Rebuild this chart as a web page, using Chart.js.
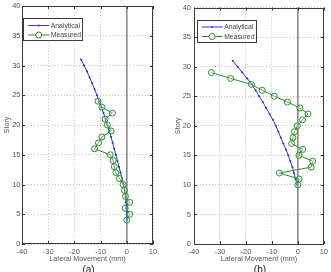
<!DOCTYPE html>
<html>
<head>
<meta charset="utf-8">
<script src="https://cdn.jsdelivr.net/npm/chart.js@4/dist/chart.umd.min.js"></script>
<style>
  html,body{margin:0;padding:0;background:#fff;width:331px;height:272px;overflow:hidden;}
  .p{position:absolute;top:0;height:272px;}
</style>
</head>
<body>
<div class="p" style="left:0;width:165px;"><canvas id="ca" width="165" height="272"></canvas></div>
<div class="p" style="left:165px;width:166px;"><canvas id="cb" width="166" height="272"></canvas></div>
<script>
// ---- Data ----
const xTickValues = [-40, -30, -20, -10, 0, 10];
const yTickValues = [0, 5, 10, 15, 20, 25, 30, 35, 40];
const seriesNames = ['Analytical', 'Measured'];
const panelLabels = ['(a)', '(b)'];

// Panel (a)
const aAnalyticalStory = [31,30,29,28,27,26,25,24,23,22,21,20,19,18,17,16,15,14,13,12,11,10,9,8,7,6,5,4];
const aAnalyticalMove  = [-17.5,-16.3,-15.2,-14.2,-13.2,-12.3,-11.4,-10.5,-9.7,-8.9,-8.1,-7.4,-6.7,-6.0,-5.4,-4.8,-4.2,-3.6,-3.0,-2.4,-1.8,-1.2,-0.8,-0.5,-0.3,-0.1,0,0];
const aMeasuredStory   = [24,23,22,21,20,19,18,17,16,15,14,13,12,11,10,9,8,7,6,5,4];
const aMeasuredMove    = [-11,-9.5,-5.5,-8.3,-7.4,-6,-9.5,-10.8,-12.3,-6.3,-5.2,-4.8,-4.2,-2.8,-1.4,-0.9,-0.5,1.1,-0.6,1.1,0];

// Panel (b)
const bAnalyticalStory = [31,30,29,28,27,26,25,24,23,22,21,20,19,18,17,16,15,14,13,12,11,10];
const bAnalyticalMove  = [-25.1,-23.2,-21.4,-19.5,-17.7,-16.3,-14.9,-13.5,-12.2,-10.9,-9.6,-8.5,-7.5,-6.6,-5.6,-4.6,-3.7,-2.9,-2.1,-1.5,-0.9,-0.3];
const bMeasuredStory   = [29,28,27,26,25,24,23,22,21,20,19,18,17,16,15,14,13,12,11,10];
const bMeasuredMove    = [-33.3,-25.9,-17.9,-13.7,-9.1,-4.0,0.8,3.9,1.8,-0.2,-1.3,-1.9,-2.4,1.9,0.4,5.7,5.1,-7.1,0.5,0];

// Zero reference line
const zeroLineX = [0, 0];
const zeroLineY = [0, 40];

// ---- Helpers ----
const FONT = "'Liberation Sans', Arial, Helvetica, sans-serif";
const pts = (xs, ys) => xs.map((x, i) => ({x: x, y: ys[i]}));

const framePlugin = {
  id: 'frame',
  afterDraw(chart, args, o) {
    const ctx = chart.ctx;
    const a = chart.chartArea;
    ctx.save();
    // box
    ctx.strokeStyle = '#3a3a3a';
    ctx.lineWidth = 1;
    ctx.strokeRect(Math.round(a.left) + 0.5, Math.round(a.top) + 0.5,
                   Math.round(a.right - a.left) - 1, Math.round(a.bottom - a.top) - 1);
    // inward ticks
    const tl = 3;
    const xs = chart.scales.x, ys = chart.scales.y;
    ctx.beginPath();
    xs.ticks.forEach(t => {
      const px = Math.round(xs.getPixelForValue(t.value)) + 0.5;
      ctx.moveTo(px, a.bottom); ctx.lineTo(px, a.bottom - tl);
      ctx.moveTo(px, a.top); ctx.lineTo(px, a.top + tl);
    });
    ys.ticks.forEach(t => {
      const py = Math.round(ys.getPixelForValue(t.value)) + 0.5;
      ctx.moveTo(a.left, py); ctx.lineTo(a.left + tl, py);
      ctx.moveTo(a.right, py); ctx.lineTo(a.right - tl, py);
    });
    ctx.stroke();

    // legend
    const L = o.legend;
    const lx = a.left + L.dx, ly = a.top + L.dy;
    ctx.fillStyle = '#ffffff';
    ctx.fillRect(lx, ly, L.w, L.h);
    ctx.strokeStyle = '#3a3a3a';
    ctx.strokeRect(Math.round(lx) + 0.5, Math.round(ly) + 0.5, L.w, L.h);
    ctx.font = '6.8px ' + FONT;
    ctx.textBaseline = 'middle';
    ctx.textAlign = 'left';
    const items = chart.data.datasets.filter(d => d.inLegend);
    items.forEach((d, i) => {
      const yy = ly + 7.5 + i * 9.5;
      const x0 = lx + 5, x1 = lx + 26;
      ctx.strokeStyle = d.borderColor;
      ctx.lineWidth = 1;
      ctx.beginPath(); ctx.moveTo(x0, yy); ctx.lineTo(x1, yy); ctx.stroke();
      const cx = (x0 + x1) / 2;
      ctx.beginPath();
      ctx.arc(cx, yy, d.pointRadius, 0, Math.PI * 2);
      if (d.pointRadius > 1.5) { ctx.fillStyle = '#fff'; ctx.fill(); ctx.stroke(); }
      else { ctx.fillStyle = d.borderColor; ctx.fill(); }
      ctx.fillStyle = '#444';
      ctx.fillText(d.label, x1 + 1.5, yy + 0.5);
    });

    // panel label
    ctx.font = '10px ' + FONT;
    ctx.fillStyle = '#222';
    ctx.textAlign = 'center';
    ctx.textBaseline = 'top';
    ctx.fillText(o.panel, (a.left + a.right) / 2 + 1, 265);
    ctx.restore();
  }
};

function makeChart(id, aStory, aMove, mStory, mMove, cfg) {
  return new Chart(document.getElementById(id), {
    type: 'line',
    data: {
      datasets: [
        {
          label: seriesNames[0], inLegend: true,
          data: pts(aMove, aStory),
          borderColor: '#3535d8', backgroundColor: '#3535d8',
          borderWidth: 1, pointRadius: 1, pointHoverRadius: 1,
          pointBorderWidth: 0, pointBackgroundColor: '#2a2ac8',
          tension: 0, order: 2
        },
        {
          label: seriesNames[1], inLegend: true,
          data: pts(mMove, mStory),
          borderColor: '#2e8b2e', backgroundColor: 'rgba(0,0,0,0)',
          borderWidth: 1, pointRadius: 3, pointHoverRadius: 3,
          pointBorderWidth: 1, pointBackgroundColor: 'rgba(255,255,255,0.25)',
          pointBorderColor: '#2e8b2e',
          tension: 0, order: 1
        },
        {
          label: 'zero', inLegend: false,
          data: pts(zeroLineX, zeroLineY),
          borderColor: '#8a8a8a', borderWidth: 1.6, pointRadius: 0,
          tension: 0, order: 3
        }
      ]
    },
    options: {
      responsive: false, animation: false, devicePixelRatio: 1,
      events: [],
      layout: { padding: { top: 4, right: cfg.padRight, bottom: 0, left: 0 } },
      plugins: {
        legend: { display: false },
        tooltip: { enabled: false },
        frame: { legend: cfg.legend, panel: cfg.panel }
      },
      scales: {
        x: {
          type: 'linear', min: -40, max: 10,
          afterBuildTicks: s => { s.ticks = xTickValues.map(v => ({value: v})); },
          afterFit: s => { s.height = 28; },
          grid: { color: '#c4c4c4', lineWidth: 1, drawTicks: false },
          border: { display: false, dash: [1, 2] },
          ticks: { padding: 3, color: '#555', font: { family: FONT, size: 7.5 }, maxRotation: 0 },
          title: { display: true, text: 'Lateral Movement (mm)', color: '#555',
                   font: { family: FONT, size: 7.2 }, padding: { top: 0, bottom: 8.5 } }
        },
        y: {
          type: 'linear', min: 0, max: 40,
          afterBuildTicks: s => { s.ticks = yTickValues.map(v => ({value: v})); },
          afterFit: s => { s.width = cfg.yWidth; },
          grid: { color: '#c4c4c4', lineWidth: 1, drawTicks: false },
          border: { display: false, dash: [1, 2] },
          ticks: { padding: cfg.yPad, color: '#555', font: { family: FONT, size: 7.5 } },
          title: { display: true, text: 'Story', color: '#555',
                   font: { family: FONT, size: 7.2 }, padding: { top: cfg.yTitlePad, bottom: 0 } }
        }
      }
    },
    plugins: [framePlugin]
  });
}

makeChart('ca', aAnalyticalStory, aAnalyticalMove, aMeasuredStory, aMeasuredMove, {
  padRight: 12, yWidth: 22, yPad: 1.5, yTitlePad: 2.5, panel: panelLabels[0],
  legend: { dx: 1.3, dy: 12, w: 59, h: 22 }
});
makeChart('cb', bAnalyticalStory, bAnalyticalMove, bMeasuredStory, bMeasuredMove, {
  padRight: 5, yWidth: 29, yPad: 3, yTitlePad: 8.5, panel: panelLabels[1],
  legend: { dx: 2.7, dy: 12, w: 59, h: 22 }
});
</script>
</body>
</html>
